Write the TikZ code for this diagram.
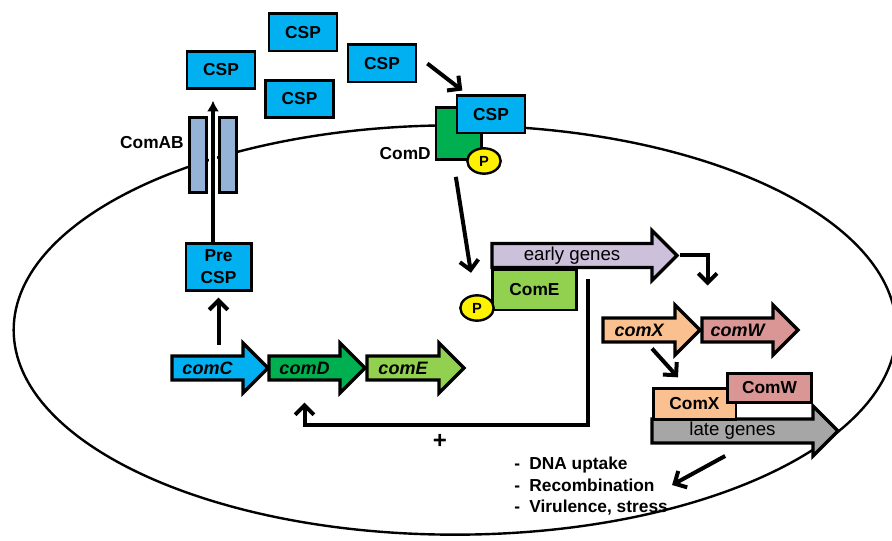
\documentclass[tikz,border=0pt]{standalone}
\usepackage{fontspec}
\setmainfont{Liberation Sans}
\usetikzlibrary{arrows.meta, positioning, fit, shapes.geometric}

\definecolor{cspblue}{RGB}{0,176,240}
\definecolor{dgreen}{RGB}{0,176,80}
\definecolor{lgreen}{RGB}{146,208,80}
\definecolor{lavender}{RGB}{204,192,218}
\definecolor{peach}{RGB}{250,192,144}
\definecolor{rose}{RGB}{217,150,148}
\definecolor{lategray}{RGB}{166,166,166}
\definecolor{barblue}{RGB}{149,179,215}

\tikzset{
    box/.style={draw, line width=2pt, minimum width=51pt, minimum height=28pt, inner sep=1pt, font=\bfseries\fontsize{13}{16.5}\selectfont},
    csp/.style={box, fill=cspblue},
    phos/.style={draw, ellipse, line width=1.8pt, fill=yellow, minimum width=25pt, minimum height=19pt, inner sep=0pt, font=\bfseries\fontsize{11}{12}\selectfont},
    bar/.style={draw, line width=2pt, fill=barblue, minimum width=13pt, minimum height=56pt},
    genetxt/.style={inner sep=0pt, font=\bfseries\itshape\fontsize{13.5}{15}\selectfont},
    geneplain/.style={inner sep=0pt, font=\fontsize{14}{16}\selectfont},
    lbl/.style={inner sep=0pt, font=\bfseries\fontsize{13}{16.1}\selectfont},
    arr/.style={line width=3pt, line join=miter, -{Straight Barb[length=7pt,width=14pt]}}
}

\newcommand{\gene}[7]{%
    \draw[line width=2.6pt, line join=miter, fill=#5] (#2,#4-12) -- (#3-25,#4-12) -- (#3-25,#4-25) -- (#3,#4) -- (#3-25,#4+25) -- (#3-25,#4+12) -- (#2,#4+12) -- cycle;
    \coordinate (#1-tip) at (#3,#4);
    \node[#6] (#1) at ({(#2+#3-25)/2},#4) {#7};
}

\begin{document}
\begin{tikzpicture}[x=0.75pt, y=-0.75pt]
    \useasboundingbox (0,0) rectangle (892,541);

    \node[draw, ellipse, line width=1.8pt, minimum width=662pt, minimum height=307pt] (cell) at (455,330) {};

    \node[csp] (csp1) at (221,70) {CSP};
    \node[csp] (csp2) at (303,32.5) {CSP};
    \node[csp] (csp3) at (382,63.5) {CSP};
    \node[csp] (csp4) at (299.5,99) {CSP};

    \node[box, fill=dgreen, minimum width=34pt, minimum height=39pt] (comd) at (458.5,133.5) {};
    \node[csp] (cspb) at (491,114.5) {CSP};
    \node[phos] (pd) at (484,161) {P};
    \node[lbl, anchor=east] (comdlbl) at (431,154) {ComD};

    \draw[arr] ([xshift=7.5pt]csp3.east) -- ([xshift=5pt,yshift=3pt]cspb.north west);

    \node[bar] (bara) at (198,155) {};
    \node[bar] (barb) at (228,155) {};
    \node[fit=(bara) (barb), inner sep=0pt] (comab) {};
    \node[lbl, anchor=east] (comablbl) at (184,143) {ComAB};

    \node[csp, minimum width=49pt, minimum height=35pt, align=center] (precsp) at (218.5,267) {Pre\\CSP};
    \draw[line width=2.4pt, shorten >=8pt, -{Latex[length=8pt,width=9pt]},
          preaction={draw=white, line width=5.5pt, shorten >=7pt, -{Latex[length=10pt,width=12pt]}}]
          (precsp.north -| comab) -- (csp1.south -| comab);

    \gene{gC}{172}{268}{368}{cspblue}{genetxt}{comC}
    \gene{gD}{269}{365}{368}{dgreen}{genetxt}{comD}
    \gene{gE}{367}{464}{368}{lgreen}{genetxt}{comE}
    \draw[arr, shorten <=12.5pt, shorten >=4.5pt] (precsp.south |- gC.north) -- (precsp.south);

    \gene{early}{492}{677}{255.5}{lavender}{geneplain}{early genes}
    \node[box, fill=lgreen, minimum width=63pt, minimum height=30pt] (come) at (534.5,290) {ComE};
    \node[phos] (pe) at (477,308) {P};
    \draw[arr] ([xshift=-2pt,yshift=-12pt]comd.south) -- ([xshift=-4.5pt,yshift=16pt]pe.north);

    \coordinate (fb) at (588,279);
    \draw[arr, shorten >=21pt] (fb) -- ++(0,146) -| (gD.south);
    \node[lbl, font=\bfseries\fontsize{18}{18}\selectfont] (plus) at (440,441) {+};

    \draw[arr] ([xshift=2pt]early-tip) -- ++(28,0) -- ++(0,30);

    \gene{gX}{603}{700}{330}{peach}{genetxt}{comX}
    \gene{gW}{702}{798}{330}{rose}{genetxt}{comW}

    \gene{late}{652}{838}{431}{lategray}{geneplain}{late genes}
    \node[box, fill=peach, minimum width=62pt, minimum height=23pt] (pX) at (694.5,404) {ComX};
    \node[box, fill=rose, minimum width=63pt, minimum height=22pt] (pW) at (769.5,388) {ComW};
    \draw[arr] ([xshift=9.75pt,yshift=-9pt]gX.south) -- ([xshift=-12.4pt,yshift=7.5pt]pX.north);

    \node[lbl, anchor=west] (uses) at (514,487) {\begin{tabular}{@{}l@{\hspace{7pt}}l@{}}-&DNA uptake\\-&Recombination\\-&Virulence, stress\end{tabular}};
    \draw[arr] ([xshift=-5.5pt,yshift=-12pt]late.south) -- ([xshift=3pt,yshift=1.5pt]uses.east);
\end{tikzpicture}
\end{document}
